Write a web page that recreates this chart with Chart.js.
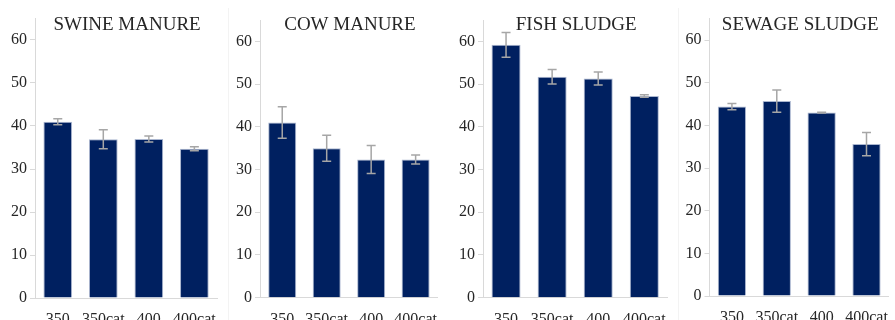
<!DOCTYPE html>
<html>
<head>
<meta charset="utf-8">
<script src="https://cdn.jsdelivr.net/npm/chart.js@4.4.1/dist/chart.umd.min.js"></script>
<style>
	html, body { margin: 0; padding: 0; background: #ffffff; overflow: hidden; width: 895px; height: 320px; }
	.panel { position: absolute; top: 0; }
	.divider { position: absolute; top: 8px; width: 1px; height: 312px; background: #f3f3f3; }
</style>
</head>
<body>
<div class="panel" style="left:0px"><canvas id="swineChart" width="228" height="335"></canvas></div>
<div class="panel" style="left:228px"><canvas id="cowChart" width="222" height="335"></canvas></div>
<div class="panel" style="left:450px"><canvas id="fishChart" width="228" height="335"></canvas></div>
<div class="panel" style="left:678px"><canvas id="sewageChart" width="222" height="335"></canvas></div>
<div class="divider" style="left:228px"></div>
<div class="divider" style="left:678px"></div>

<script>
// DATA
const categories = ['350', '350cat', '400', '400cat'];

const swineValues = [41.0, 36.9, 37.0, 34.7];
const swineErrors = [0.7, 2.2, 0.7, 0.45];

const cowValues = [41.0, 35.0, 32.35, 32.35];
const cowErrors = [3.7, 3.05, 3.3, 1.05];

const fishValues = [59.2, 51.7, 51.3, 47.2];
const fishErrors = [2.9, 1.7, 1.5, 0.3];

const sewageValues = [44.4, 45.7, 43.0, 35.6];
const sewageErrors = [0.75, 2.6, 0.1, 2.7];

const yTicksMax = 65;

const serif = '"Liberation Serif", "Times New Roman", serif';
const barColor = '#002060';
const axisColor = '#d9d9d9';
const errorColor = '#a6a6a6';

Chart.defaults.font.family = serif;
Chart.defaults.font.size = 16;
Chart.defaults.color = '#262626';

// draws the error bars on top of the bars, using the y scale of the chart
function errorBarPlugin(errors) {
	return {
		id: 'errorBars',
		afterDatasetsDraw(chart) {
			const ctx = chart.ctx;
			const y = chart.scales.y;
			const meta = chart.getDatasetMeta(0);
			const values = chart.data.datasets[0].data;
			ctx.save();
			ctx.strokeStyle = errorColor;
			ctx.lineWidth = 1.5;
			meta.data.forEach((bar, i) => {
				const top = y.getPixelForValue(values[i] + errors[i]);
				const bottom = y.getPixelForValue(values[i] - errors[i]);
				ctx.beginPath();
				ctx.moveTo(bar.x, top);
				ctx.lineTo(bar.x, bottom);
				ctx.moveTo(bar.x - 4.5, top);
				ctx.lineTo(bar.x + 4.5, top);
				ctx.moveTo(bar.x - 4.5, bottom);
				ctx.lineTo(bar.x + 4.5, bottom);
				ctx.stroke();
			});
			ctx.restore();
		}
	};
}

// title is drawn inside the plot area, like in the original figure
function titlePlugin(text) {
	return {
		id: 'panelTitle',
		afterDraw(chart) {
			const ctx = chart.ctx;
			const area = chart.chartArea;
			ctx.save();
			ctx.font = '19px ' + serif;
			ctx.fillStyle = '#262626';
			ctx.textAlign = 'center';
			ctx.textBaseline = 'alphabetic';
			ctx.fillText(text, (area.left + area.right) / 2 + 1, 30);
			ctx.restore();
		}
	};
}

// one panel = one bar chart
function createPanel(canvasId, title, values, errors, yWidth, padding) {
	const ctx = document.getElementById(canvasId).getContext('2d');

	const data = {
		labels: categories,
		datasets: [{
			label: title,
			data: values,
			backgroundColor: barColor,
			borderColor: '#aab6cf',
			borderWidth: 1,
			barPercentage: 0.63,
			categoryPercentage: 1
		}]
	};

	const config = {
		type: 'bar',
		data: data,
		options: {
			responsive: false,
			animation: false,
			devicePixelRatio: 1,
			layout: {
				padding: padding
			},
			plugins: {
				legend: { display: false },
				tooltip: { enabled: false }
			},
			scales: {
				x: {
					afterFit: (scale) => { scale.height = 37; },
					grid: { display: false, drawTicks: false },
					border: { color: axisColor, width: 1 },
					ticks: {
						font: { family: serif, size: 16 },
						padding: 12,
						maxRotation: 0,
						autoSkip: false
					}
				},
				y: {
					min: 0,
					max: yTicksMax,
					afterFit: (scale) => { scale.width = yWidth; },
					grid: {
						drawOnChartArea: false,
						drawTicks: true,
						tickLength: 5,
						color: axisColor
					},
					border: { color: axisColor, width: 1 },
					ticks: {
						font: { family: serif, size: 16 },
						stepSize: 5,
						padding: 3,
						callback: (value) => (value % 10 === 0 ? String(value) : '')
					}
				}
			}
		},
		plugins: [errorBarPlugin(errors), titlePlugin(title)]
	};

	return new Chart(ctx, config);
}

createPanel('swineChart', 'SWINE MANURE', swineValues, swineErrors, 35,
	{ top: 18.5, right: 2.5, bottom: 0, left: 0 });
createPanel('cowChart', 'COW MANURE', cowValues, cowErrors, 32,
	{ top: 20, right: 8.4, bottom: 0.3, left: 0 });
createPanel('fishChart', 'FISH SLUDGE', fishValues, fishErrors, 33,
	{ top: 20, right: 3, bottom: 0.3, left: 0 });
createPanel('sewageChart', 'SEWAGE SLUDGE', sewageValues, sewageErrors, 31.5,
	{ top: 18.7, right: 1.4, bottom: 2, left: 0 });
</script>
</body>
</html>
